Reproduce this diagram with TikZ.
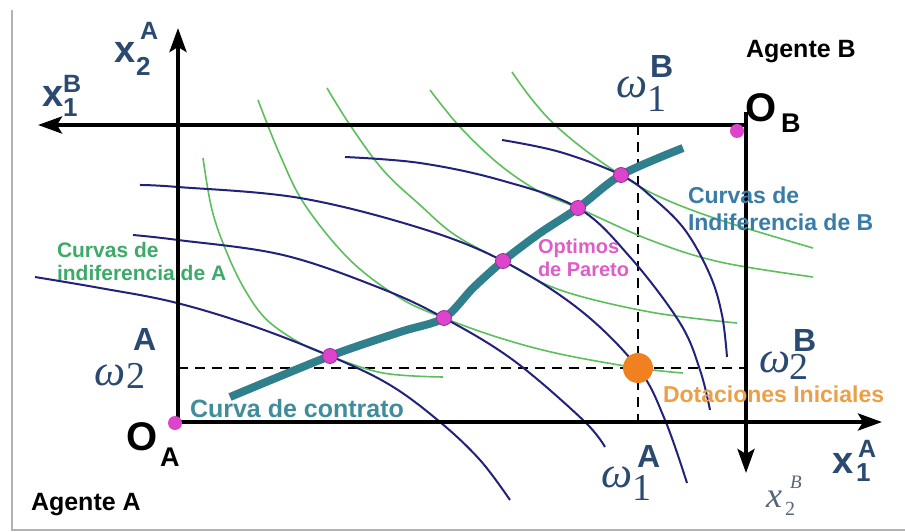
\documentclass[tikz,border=0pt]{standalone}
\usepackage{fontspec}
\setmainfont{Liberation Sans}
\newfontfamily\serifgr{Liberation Serif}
\usetikzlibrary{arrows.meta}
\newcommand\myfs[1]{\fontsize{#1}{#1}\selectfont}
\definecolor{navyc}{HTML}{22227A}
\definecolor{greenc}{HTML}{5CBF5C}
\definecolor{tealc}{HTML}{2F7F8C}
\definecolor{labc}{HTML}{2B4A72}
\definecolor{magc}{HTML}{DD44CC}
\definecolor{magd}{HTML}{9A2F9A}
\definecolor{orangec}{HTML}{F08020}
\definecolor{grayx}{HTML}{56667A}
\definecolor{txtgreen}{HTML}{3DAA6A}
\definecolor{txtblue}{HTML}{3A7CA8}
\definecolor{txtmag}{HTML}{E05CC8}
\definecolor{txtteal}{HTML}{3F8C9A}
\definecolor{txtorange}{HTML}{EBA048}
\begin{document}
\begin{tikzpicture}[x=1pt,y=-1pt,
  lbl/.style={inner sep=0pt,outer sep=0pt,anchor=base west},
  axisline/.style={line width=4pt,-{Stealth[length=24pt,width=17pt,inset=5pt]}},
  dashline/.style={line width=2.5pt,dash pattern=on 10pt off 7pt},
  acurve/.style={navyc,line width=2pt},
  bcurve/.style={greenc,line width=1.6pt},
  contract/.style={tealc,line width=8pt},
  pdot/.style={circle,inner sep=0pt,minimum size=15pt,fill=magc,draw=magd,line width=0.8pt},
  odot/.style={circle,inner sep=0pt,minimum size=14pt,fill=magc},
  edot/.style={circle,inner sep=0pt,minimum size=30pt,fill=orangec},
  bigsym/.style={lbl,font=\myfs{40}\bfseries},
  smallsym/.style={lbl,font=\myfs{27}\bfseries},
  xsym/.style={lbl,font=\myfs{38}\bfseries,text=labc},
  xsup/.style={lbl,font=\myfs{25}\bfseries,text=labc},
  xsub/.style={lbl,font=\myfs{26}\bfseries,text=labc},
  wsym/.style={lbl,font=\serifgr\itshape\myfs{44},text=labc},
  wsup/.style={lbl,font=\myfs{32}\bfseries,text=labc},
  wsub/.style={lbl,font=\serifgr\myfs{38},text=labc}
]
\useasboundingbox (0,0) rectangle (905,532);
\fill[white] (0,0) rectangle (905,532);
% frame
\draw[gray!60,line width=2pt] (12,10) -- (12,530) -- (905,530);

% coordinates
\coordinate (OA) at (178,422);
\coordinate (OB) at (746,125);
\coordinate (OBt) at (746,112);
\coordinate (xaTip) at (882,422);
\coordinate (yaTip) at (178,28);
\coordinate (xbTip) at (38,125);
\coordinate (ybTip) at (746,473);
\coordinate (E) at (638,368);
\coordinate (dvTop) at (638,125);
\coordinate (dvBot) at (638,422);
\coordinate (dhL) at (178,368);
\coordinate (dhR) at (745,368);

% dashed lines
\draw[dashline] (dvTop) -- (dvBot);
\draw[dashline] (dhL) -- (dhR);

% indifference curves of B (green)
\draw[bcurve] plot[smooth,tension=0.6] coordinates {(203,158) (212,210) (227,253) (245,290) (267,320) (300,343) (330,356) (383,373) (443,377)};
\draw[bcurve] plot[smooth,tension=0.6] coordinates {(258,100) (280,155) (305,205) (350,260) (400,298) (444,318) (500,338) (560,354) (638,368) (683,373)};
\draw[bcurve] plot[smooth,tension=0.6] coordinates {(327,88) (350,125) (383,170) (420,205) (455,235) (503,261) (560,290) (650,312) (737,323)};
\draw[bcurve] plot[smooth,tension=0.6] coordinates {(430,90) (460,127) (500,165) (540,192) (578,208) (650,240) (720,262) (813,277)};
\draw[bcurve] plot[smooth,tension=0.6] coordinates {(512,72) (530,97) (553,123) (585,150) (621,175) (660,197) (720,220) (813,248)};

% indifference curves of A (navy)
\draw[acurve] plot[smooth,tension=0.6] coordinates {(35,277) (100,288) (173,302) (250,325) (330,356) (390,385) (440,422) (480,460) (510,500)};
\draw[acurve] plot[smooth,tension=0.6] coordinates {(133,235) (178,240) (283,255) (380,288) (444,318) (513,360) (583,420) (605,447)};
\draw[acurve] plot[smooth,tension=0.6] coordinates {(140,185) (178,187) (300,198) (420,228) (503,261) (580,310) (638,368) (665,420) (687,483)};
\draw[acurve] plot[smooth,tension=0.6] coordinates {(345,157) (420,163) (500,180) (578,208) (630,257) (680,323) (700,370) (710,410)};
\draw[acurve] plot[smooth,tension=0.6] coordinates {(502,140) (560,152) (621,175) (653,198) (685,230) (710,275) (722,315) (727,357)};

% axes
\draw[axisline] (OA) -- (xaTip);
\draw[axisline] (OA) -- (yaTip);
\draw[axisline] (OB) -- (xbTip);
\draw[axisline] (OBt) -- (ybTip);

% contract curve
\draw[contract] plot[smooth,tension=0.5] coordinates {(230,397) (330,356) (400,332) (444,318) (473,288) (503,261) (540,233) (578,208) (621,175) (683,148)};

% dots
\node[odot] (oad) at (175,423) {};
\node[odot] (obd) at (737,131) {};
\node[pdot] (p1) at (330,356) {};
\node[pdot] (p2) at (444,318) {};
\node[pdot] (p3) at (503,261) {};
\node[pdot] (p4) at (578,208) {};
\node[pdot] (p5) at (621,175) {};
\node[edot] (end) at (E) {};

% axis labels
\node[xsym] (xa2) at (114,63) {x};
\node[xsup] (xa2s) at (140,40) {A};
\node[xsub] (xa2i) at (136,76) {2};

\node[xsym] (xb1) at (42,107) {x};
\node[xsup] (xb1s) at (63,93) {B};
\node[xsub] (xb1i) at (63,117) {1};

\node[xsym] (xa1) at (832,473) {x};
\node[xsup] (xa1s) at (858,457) {A};
\node[xsub] (xa1i) at (856,481) {1};

\node[lbl,font=\serifgr\itshape\myfs{36},text=grayx] (xb2) at (766,507) {x};
\node[lbl,font=\serifgr\itshape\myfs{19},text=grayx] (xb2s) at (790,488) {B};
\node[lbl,font=\serifgr\myfs{20},text=grayx] (xb2i) at (785,515) {2};

% endowment labels
\node[wsym] (w1b) at (616,98) {ω};
\node[wsup] (w1bs) at (650,78) {B};
\node[wsub] (w1bi) at (647,112) {1};

\node[wsym] (w1a) at (601,487) {ω};
\node[wsup] (w1as) at (637,467) {A};
\node[wsub] (w1ai) at (632,500) {1};

\node[wsym] (w2a) at (94,385) {ω};
\node[wsup] (w2as) at (133,350) {A};
\node[wsub] (w2ai) at (126,388) {2};

\node[wsym] (w2b) at (759,372) {ω};
\node[wsup] (w2bs) at (793,351) {B};
\node[wsub] (w2bi) at (789,379) {2};

% origins
\node[bigsym] (oa) at (126,450) {O};
\node[smallsym] (oas) at (160,466) {A};
\node[bigsym] (ob) at (745,122) {O};
\node[smallsym] (obs) at (781,133) {B};

% agents
\node[lbl,font=\myfs{25}\bfseries] (agb) at (746,58) {Agente B};
\node[lbl,font=\myfs{25}\bfseries] (aga) at (31,510) {Agente A};

% texts
\node[lbl,font=\myfs{21}\bfseries,text=txtgreen] (cia1) at (57,257) {Curvas de};
\node[lbl,font=\myfs{21}\bfseries,text=txtgreen] (cia2) at (57,280) {indiferencia de A};
\node[lbl,font=\myfs{23}\bfseries,text=txtblue] (cib1) at (688,203) {Curvas de};
\node[lbl,font=\myfs{23}\bfseries,text=txtblue] (cib2) at (688,230) {Indiferencia de B};
\node[lbl,font=\myfs{20}\bfseries,text=txtmag] (op1) at (538,253) {Optimos};
\node[lbl,font=\myfs{20}\bfseries,text=txtmag] (op2) at (538,276) {de Pareto};
\node[lbl,font=\myfs{25}\bfseries,text=txtteal] (cc) at (190,417) {Curva de contrato};
\node[lbl,font=\myfs{23}\bfseries,text=txtorange] (di) at (663,402) {Dotaciones Iniciales};
\end{tikzpicture}
\end{document}
